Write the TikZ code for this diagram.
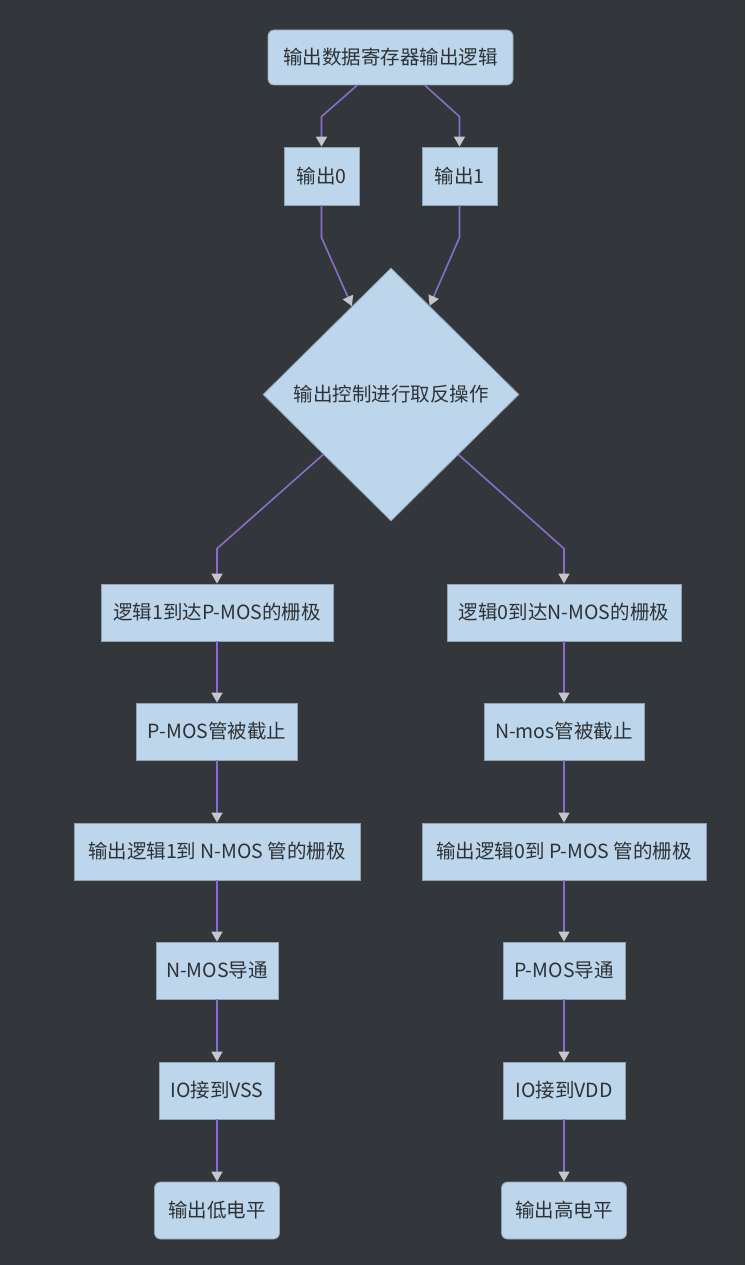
\documentclass[tikz,border=0pt]{standalone}
\usepackage{fontspec}
\newfontfamily\cjk{Noto Sans CJK SC}
\usetikzlibrary{shapes.geometric,arrows.meta,calc}
\definecolor{bg}{HTML}{33373C}
\definecolor{nodefill}{HTML}{BDD6EB}
\definecolor{nodeline}{HTML}{8FA3B5}
\definecolor{edgecol}{HTML}{8A6DCB}
\definecolor{tipcol}{HTML}{C4C6C9}
\definecolor{txt}{HTML}{2E3236}
\begin{document}
\begin{tikzpicture}[x=1pt,y=-1pt,
  box/.style={draw=nodeline,fill=nodefill,line width=0.8pt,inner sep=0pt,
    minimum height=57pt,text=txt,font=\cjk\fontsize{19.5}{23}\selectfont},
  rbox/.style={box,rounded corners=6pt},
  dia/.style={box,shape=diamond,aspect=1},
  edge/.style={draw=edgecol,line width=1.6pt,
    -{Triangle[width=11pt,length=10pt,fill=tipcol,color=tipcol]}}
]
\fill[bg] (0,0) rectangle (745,1265);
\useasboundingbox (0,0) rectangle (745,1265);

\node[rbox,minimum width=245pt,minimum height=55pt] (top) at (390.5,57.5) {输出数据寄存器输出逻辑};
\node[box,minimum width=75pt,minimum height=58pt] (o0) at (321.5,176) {输出0};
\node[box,minimum width=75pt,minimum height=58pt] (o1) at (459.5,176) {输出1};
\node[dia,minimum width=256pt,minimum height=253pt] (d) at (391,394.5) {输出控制进行取反操作};

\node[box,minimum width=232pt] (l1) at (217,612.5) {逻辑1到达P-MOS的栅极};
\node[box,minimum width=234pt] (r1) at (564,612.5) {逻辑0到达N-MOS的栅极};
\node[box,minimum width=161pt] (l2) at (217,731.5) {P-MOS管被截止};
\node[box,minimum width=160pt] (r2) at (564,731.5) {N-mos管被截止};
\node[box,minimum width=286pt] (l3) at (217,851.5) {输出逻辑1到 N-MOS 管的栅极};
\node[box,minimum width=284pt] (r3) at (564,851.5) {输出逻辑0到 P-MOS 管的栅极};
\node[box,minimum width=122pt] (l4) at (217,970.5) {N-MOS导通};
\node[box,minimum width=122pt] (r4) at (564,970.5) {P-MOS导通};
\node[box,minimum width=115pt] (l5) at (217,1090.5) {IO接到VSS};
\node[box,minimum width=122pt] (r5) at (564,1090.5) {IO接到VDD};
\node[rbox,minimum width=125pt] (l6) at (217,1210.5) {输出低电平};
\node[rbox,minimum width=125pt] (r6) at (564,1210.5) {输出高电平};

\draw[edge] ([xshift=-33.5pt]top.south) -- ([yshift=30pt]o0.north) -- (o0.north);
\draw[edge] ([xshift=34.5pt]top.south) -- ([yshift=30pt]o1.north) -- (o1.north);
\draw[edge] (o0.south) -- ([yshift=-32pt]o0.south) -- (d);
\draw[edge] (o1.south) -- ([yshift=-32pt]o1.south) -- (d);
\draw[edge] (d) -- ([yshift=35pt]l1.north) -- (l1.north);
\draw[edge] (d) -- ([yshift=35pt]r1.north) -- (r1.north);
\draw[edge] (l1) -- (l2);
\draw[edge] (l2) -- (l3);
\draw[edge] (l3) -- (l4);
\draw[edge] (l4) -- (l5);
\draw[edge] (l5) -- (l6);
\draw[edge] (r1) -- (r2);
\draw[edge] (r2) -- (r3);
\draw[edge] (r3) -- (r4);
\draw[edge] (r4) -- (r5);
\draw[edge] (r5) -- (r6);
\end{tikzpicture}
\end{document}
